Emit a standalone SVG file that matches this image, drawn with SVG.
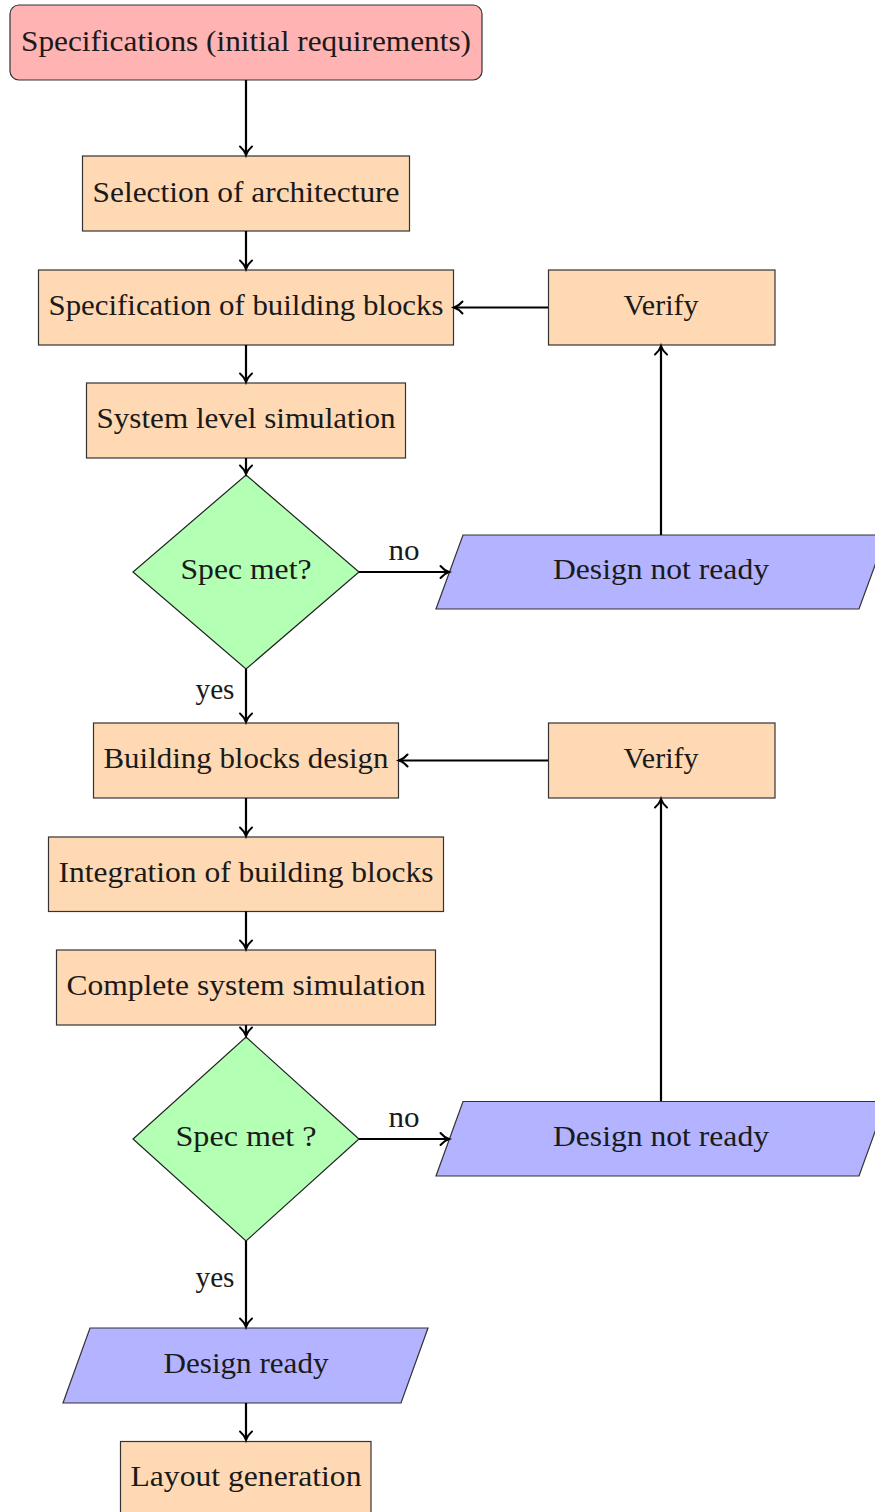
<svg xmlns="http://www.w3.org/2000/svg" width="875" height="1512" viewBox="0 0 875 1512">
<style>
  text { font-family: "Liberation Serif", "DejaVu Serif", serif; font-size: 28.5px; fill: #1a1a1a; text-anchor: middle; }
  .start { fill: #ffb3b3; stroke: #333; stroke-width: 1.2; }
  .proc { fill: #ffd9b3; stroke: #333; stroke-width: 1.2; }
  .dec { fill: #b3ffb3; stroke: #222; stroke-width: 1.2; }
  .io { fill: #b3b3ff; stroke: #333; stroke-width: 1.2; }
  .conn line { stroke: #000; stroke-width: 2.2; fill: none; marker-end: url(#arr); }
</style>
<defs>
  <marker id="arr" markerUnits="userSpaceOnUse" markerWidth="16" markerHeight="16" viewBox="-10 -8 12 16" refX="0" refY="0" orient="auto" overflow="visible">
    <path d="M-8.5,-6 C-6,-3 -3,-1 0,0 C-3,1 -6,3 -8.5,6" fill="none" stroke="#000" stroke-width="2" stroke-linecap="round"/>
  </marker>
</defs>

<g id="n-spec-initial">
  <rect class="start" x="10" y="5" width="472" height="75" rx="9"/>
  <text x="246" y="51" textLength="450" lengthAdjust="spacingAndGlyphs">Specifications (initial requirements)</text>
</g>
<g id="n-selection">
  <rect class="proc" x="82.5" y="156" width="327" height="75"/>
  <text x="246" y="202" textLength="307" lengthAdjust="spacingAndGlyphs">Selection of architecture</text>
</g>
<g id="n-spec-blocks">
  <rect class="proc" x="38.5" y="270" width="415" height="75"/>
  <text x="246" y="315" textLength="395" lengthAdjust="spacingAndGlyphs">Specification of building blocks</text>
</g>
<g id="n-sys-sim">
  <rect class="proc" x="86.5" y="383" width="319" height="75"/>
  <text x="246" y="428" textLength="299" lengthAdjust="spacingAndGlyphs">System level simulation</text>
</g>
<g id="n-dec1">
  <polygon class="dec" points="246,475 359,572 246,669 133,572"/>
  <text x="246" y="579" textLength="131" lengthAdjust="spacingAndGlyphs">Spec met?</text>
</g>
<g id="n-notready1">
  <polygon class="io" points="463,535 886,535 859,609 436,609"/>
  <text x="661" y="579" textLength="216" lengthAdjust="spacingAndGlyphs">Design not ready</text>
</g>
<g id="n-verify1">
  <rect class="proc" x="548.5" y="270" width="226.5" height="75"/>
  <text x="661" y="315" textLength="75" lengthAdjust="spacingAndGlyphs">Verify</text>
</g>
<g id="n-bb-design">
  <rect class="proc" x="93.5" y="723" width="305" height="75"/>
  <text x="246" y="768" textLength="285" lengthAdjust="spacingAndGlyphs">Building blocks design</text>
</g>
<g id="n-verify2">
  <rect class="proc" x="548.5" y="723" width="226.5" height="75"/>
  <text x="661" y="768" textLength="75" lengthAdjust="spacingAndGlyphs">Verify</text>
</g>
<g id="n-integration">
  <rect class="proc" x="48.5" y="837" width="395" height="74.5"/>
  <text x="246" y="882" textLength="375" lengthAdjust="spacingAndGlyphs">Integration of building blocks</text>
</g>
<g id="n-complete">
  <rect class="proc" x="56.5" y="950" width="379" height="75"/>
  <text x="246" y="995" textLength="359" lengthAdjust="spacingAndGlyphs">Complete system simulation</text>
</g>
<g id="n-dec2">
  <polygon class="dec" points="246,1037 359,1139 246,1241 133,1139"/>
  <text x="246" y="1146" textLength="141" lengthAdjust="spacingAndGlyphs">Spec met ?</text>
</g>
<g id="n-notready2">
  <polygon class="io" points="463,1101.5 886,1101.5 859,1176 436,1176"/>
  <text x="661" y="1146" textLength="216" lengthAdjust="spacingAndGlyphs">Design not ready</text>
</g>
<g id="n-ready">
  <polygon class="io" points="90,1328 428,1328 401,1403 63,1403"/>
  <text x="246" y="1373" textLength="165" lengthAdjust="spacingAndGlyphs">Design ready</text>
</g>
<g id="n-layout">
  <rect class="proc" x="120.5" y="1441.5" width="250.5" height="80"/>
  <text x="246" y="1486" textLength="231" lengthAdjust="spacingAndGlyphs">Layout generation</text>
</g>

<g id="connectors" class="conn">
  <line x1="246" y1="80" x2="246" y2="155"/>
  <line x1="246" y1="231" x2="246" y2="269"/>
  <line x1="246" y1="345" x2="246" y2="382"/>
  <line x1="246" y1="458" x2="246" y2="474"/>
  <line x1="359" y1="572" x2="449" y2="572"/>
  <line x1="661" y1="535" x2="661" y2="346"/>
  <line x1="548" y1="307.5" x2="454" y2="307.5"/>
  <line x1="246" y1="669" x2="246" y2="722"/>
  <line x1="548" y1="760.5" x2="399" y2="760.5"/>
  <line x1="661" y1="1101" x2="661" y2="799"/>
  <line x1="246" y1="798" x2="246" y2="836"/>
  <line x1="246" y1="911.5" x2="246" y2="949"/>
  <line x1="246" y1="1025" x2="246" y2="1036"/>
  <line x1="359" y1="1139" x2="449" y2="1139"/>
  <line x1="246" y1="1241" x2="246" y2="1327"/>
  <line x1="246" y1="1403" x2="246" y2="1440"/>
  <text x="404" y="560" textLength="31" lengthAdjust="spacingAndGlyphs">no</text>
  <text x="215" y="699" textLength="39" lengthAdjust="spacingAndGlyphs">yes</text>
  <text x="404" y="1127" textLength="31" lengthAdjust="spacingAndGlyphs">no</text>
  <text x="215" y="1287" textLength="39" lengthAdjust="spacingAndGlyphs">yes</text>
</g>
</svg>
